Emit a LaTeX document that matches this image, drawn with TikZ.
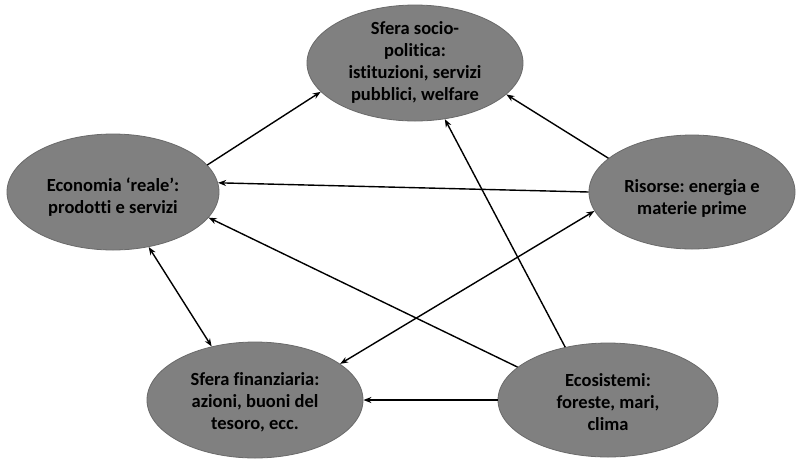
\documentclass[tikz,border=0pt]{standalone}
\usepackage{fontspec}
\setmainfont[Ligatures={NoCommon}]{Carlito}
\frenchspacing
\usetikzlibrary{shapes.geometric,arrows.meta}
\definecolor{blobfill}{HTML}{808080}
\definecolor{blobline}{HTML}{6A6A6A}
\tikzset{
  blob/.style={ellipse, fill=blobfill, draw=blobline, line width=0.8pt, inner sep=0pt},
  txt/.style={align=center, inner sep=0pt, font=\fontsize{18.5}{22}\selectfont\bfseries\frenchspacing, text=black},
  arr/.style={line width=1.4pt, -{Stealth[length=8pt,width=6pt]}},
  darr/.style={line width=1.4pt, {Stealth[length=8pt,width=6pt]}-{Stealth[length=8pt,width=6pt]}}
}
\begin{document}
\begin{tikzpicture}[x=1pt,y=-1pt]
\useasboundingbox[fill=white] (0,0) rectangle (797,459);
% ellipses
\node[blob, minimum width=216, minimum height=116] (soc) at (415,63) {};
\node[blob, minimum width=212, minimum height=116] (eco) at (113,192) {};
\node[blob, minimum width=206, minimum height=114] (ris) at (692,192) {};
\node[blob, minimum width=216, minimum height=116] (fin) at (255,400) {};
\node[blob, minimum width=220, minimum height=114] (ecs) at (608,400) {};
% texts
\node[txt] (tsoc) at (415,62) {Sfera socio-\\politica:\\istituzioni, servizi\\pubblici, welfare};
\node[txt] (teco) at (113,197) {Economia ‘reale’:\\prodotti e servizi};
\node[txt] (tris) at (692,198) {Risorse: energia e\\materie prime};
\node[txt] (tfin) at (255,402) {Sfera finanziaria:\\azioni, buoni del\\tesoro, ecc.};
\node[txt] (tecs) at (608,402) {Ecosistemi:\\foreste, mari,\\clima};
% connectors
\draw[arr] (eco.16) -- (soc.197);
\draw[arr] (ris.158) -- (soc.341);
\draw[arr] (ecs.129) -- (soc.298);
\draw[arr] (ris.180) -- (eco.5);
\draw[arr] (ecs.160) -- (eco.-15);
\draw[darr] (eco.-57) -- (fin.129);
\draw[darr] (fin.23) -- (ris.191);
\draw[arr] (ecs.180) -- (fin.0);
\end{tikzpicture}
\end{document}
